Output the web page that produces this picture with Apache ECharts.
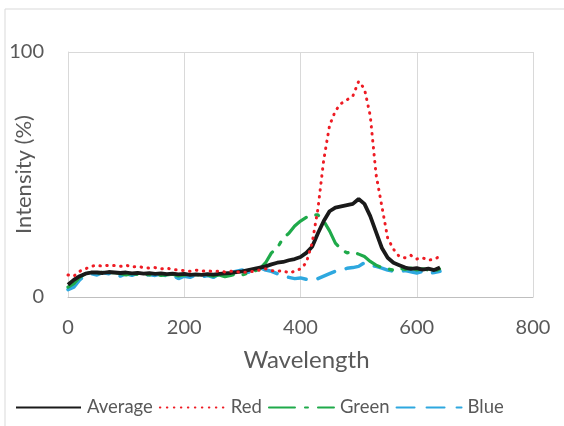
<!DOCTYPE html>
<html>
<head>
<meta charset="utf-8">
<script src="https://cdn.jsdelivr.net/npm/echarts@6/dist/echarts.min.js"></script>
<style>html,body{margin:0;padding:0;background:#fff;}#c{width:564px;height:426px;}</style>
</head>
<body>
<div id="c"></div>
<script>
const wavelengths = [0,10,20,30,40,50,60,70,80,90,100,110,120,130,140,150,160,170,180,190,200,210,220,230,240,250,260,270,280,290,300,310,320,330,340,350,360,370,380,390,400,410,420,430,440,450,460,470,480,490,500,510,520,530,540,550,560,570,580,590,600,610,620,630,640];
const average = [5,7,8.5,9.5,10,10,9.8,10.2,10,9.8,10,9.6,9.8,9.5,9.7,9.4,9.6,9.3,9.5,9.2,9.4,9.0,9.2,9.0,9.3,9.1,9.4,9.6,9.8,10.2,10.5,11,11.5,12,12.5,13.3,14,14.3,15,15.5,16.3,18,20.5,26,31,35,36.5,37,37.5,38,40,38,33,26.5,20,16,14,13,12,11.5,11.8,11.2,11.6,11,12];
const red = [9,8.5,10.5,11.5,12.5,13,12.5,13,12.8,12.5,13,12.2,12.5,12,11.8,12,11.5,11.8,11.2,11,10.8,10.5,11,10.5,10.8,10.3,10.6,10.2,10.5,10.3,10,10.2,10.5,11,11.5,10.8,10.5,10.8,9.8,10.5,11.5,14,22,36,56,70,76,79,80.5,82,88,85,74,50,37,24,19.5,16.5,16,17,15.5,16,15,15.5,16.5];
const green = [4,5.5,8,9.5,10,9.5,10.2,9.8,10,9.5,9,9.6,9.2,9.5,9,9.3,8.8,9,9.3,8.6,9,8.8,9.2,8.7,9,8.5,9,8.3,8.8,9.5,9,9.8,10.5,11.5,14,18,20,24,26,29,31,32.5,33.5,33.5,31,27,22,19.5,18,18.5,17.5,16.5,14.5,13,12,11.5,11,11.8,11.2,11.8,11,11.5,11,10.5,11.5];
const blue = [3,4,7,9,9.5,9,10,9.5,10,8.5,9.5,8.8,9.8,8.5,9.2,8.8,9.5,8.5,9,7.5,8.5,8,9,8.2,8.8,8,9.5,9,10,10.5,11,10,11.5,12,11,10.5,9.5,8.5,8,7.5,7.8,7.2,7,7.5,8.5,9.5,10.5,11,11.7,12,12.5,14,13,12.5,11.8,11,10.5,10.3,10.8,10.3,9.8,10.5,9.7,10,10.5];
const xTicks = [0,200,400,600,800];
const yTicks = [0,100];

const pairs = arr => wavelengths.map((w,i)=>[w,arr[i]]);
const font = 'Lato, "Open Sans", sans-serif';
const grey = '#595959';

const chart = echarts.init(document.getElementById('c'), null, {renderer:'canvas'});
chart.setOption({
  animation:false,
  backgroundColor:'#fff',
  graphic:[{type:'rect', shape:{x:5,y:9,width:700,height:600}, style:{fill:'none', stroke:'#d9d9d9', lineWidth:1}, silent:true, z:-1}],
  grid:{left:68, right:31, top:52, bottom:129, outerBoundsMode:'none', containLabel:false},
  xAxis:{
    type:'value', min:xTicks[0], max:xTicks[xTicks.length-1], interval:200,
    name:'Wavelength', nameLocation:'middle', nameGap:51, nameMoveOverlap:false,
    nameTextStyle:{fontFamily:font, fontSize:24, color:grey, padding:[0,0,0,12]},
    axisLine:{show:true, lineStyle:{color:'#bfbfbf', width:1}},
    axisTick:{show:false},
    axisLabel:{fontFamily:font, fontSize:20, color:grey, margin:21},
    splitLine:{show:true, lineStyle:{color:'#d9d9d9', width:1}}
  },
  yAxis:{
    type:'value', min:yTicks[0], max:yTicks[yTicks.length-1], interval:100,
    name:'Intensity (%)', nameLocation:'middle', nameGap:33, nameMoveOverlap:false,
    nameTextStyle:{fontFamily:font, fontSize:22, color:grey},
    axisLine:{show:true, lineStyle:{color:'#d9d9d9', width:1}},
    axisTick:{show:false},
    axisLabel:{fontFamily:font, fontSize:20, color:grey, margin:24},
    splitLine:{show:true, lineStyle:{color:'#d9d9d9', width:1}}
  },
  legend:{
    bottom:4, left:10, itemWidth:65, itemHeight:10, itemGap:6,
    itemStyle:{opacity:0},
    textStyle:{fontFamily:font, fontSize:18.5, color:grey, padding:[0,0,0,1]},
    data:['Average','Red','Green','Blue']
  },
  series:[
    {name:'Blue', type:'line', data:pairs(blue), showSymbol:false, symbol:'none', z:2,
      lineStyle:{color:'#2ea8df', width:3.5, type:[18,12], cap:'round'}, itemStyle:{color:'#2ea8df'}},
    {name:'Green', type:'line', data:pairs(green), showSymbol:false, symbol:'none', z:3,
      lineStyle:{color:'#1faa4a', width:3.2, type:[26,10,3,10], cap:'round'}, itemStyle:{color:'#1faa4a'}},
    {name:'Average', type:'line', data:pairs(average), showSymbol:false, symbol:'none', z:4,
      lineStyle:{color:'#1a1a1a', width:3.8}, itemStyle:{color:'#1a1a1a'}},
    {name:'Red', type:'line', data:pairs(red), showSymbol:false, symbol:'none', z:5,
      lineStyle:{color:'#ee1c24', width:3, type:[0.5,6.5], cap:'round'}, itemStyle:{color:'#ee1c24'}}
  ]
});
</script>
</body>
</html>
